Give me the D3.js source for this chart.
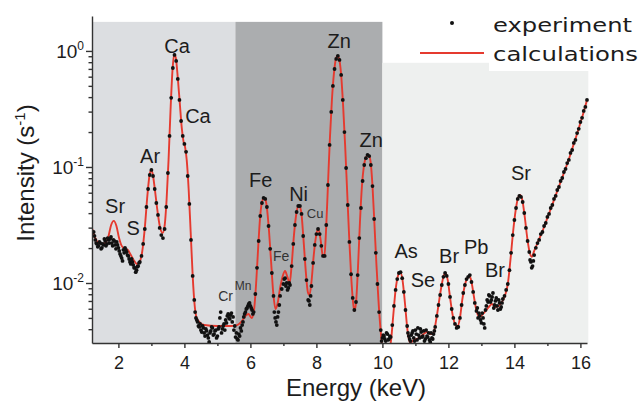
<!DOCTYPE html>
<html>
<head>
<meta charset="utf-8">
<script src="https://cdn.jsdelivr.net/npm/d3@7"></script>
<style>
  body { margin: 0; background: #fff; }
  text { font-family: "Liberation Sans", Arial, sans-serif; fill: #1c1c1c; }
</style>
</head>
<body>
<svg id="svg1" width="639" height="402"></svg>
<script>
//XRF spectrum: measured points + calculated curve

//experiment: one reading every 0.05 keV, first one at 1.25 keV
var expStart = 1.25;
var expStep = 0.05;
var expIntensity = [
  .0275, .0235, .0217, .0209, .0221, .0201, .0213, .0230, .0217, .0235,   // 1.25
  .0240, .0221, .0235, .0213, .0226, .0201, .0178, .0164, .0193, .0201,   // 1.75
  .0185, .0171, .0152, .0161, .0143, .0135, .0129, .0140, .0152, .0171,   // 2.25
  .0217, .0292, .0452, .0646, .0853, .0942, .0836, .0646, .0489, .0386,   // 2.75
  .0298, .0259, .0244, .0292, .0452, .0887, .185, .394, .713, .924,       // 3.25
  .820, .574, .378, .249, .185, .158, .135, .0836, .0480, .0235,          // 3.75
  .0115, .00714, .00500, .00462, .00418, .00393, .00426, .00371, .00402, .00356, // 4.25
  .00310, .00386, .00410, .00363, .00393, .00349, .00418, .00562, .00402, .00444, // 4.75
  .00480, .00520, .00500, .00530, .00462, .00393, .00342, .00329, .00363, .00410, // 5.25
  .00434, .00510, .00562, .00609, .00659, .00634, .00585, .00562, .00804, .0135,  // 5.75
  .0230, .0378, .0489, .0541, .0530, .0452, .0310, .0197, .0122, .00773,  // 6.25
  .00500, .00434, .00562, .00773, .00888, .00980, .0110, .0100, .00906, .00961, // 6.75
  .0140, .0217, .0316, .0409, .0461, .0461, .0394, .0254, .0161, .0106,   // 7.25
  .00714, .00646, .00942, .0149, .0213, .0264, .0292, .0264, .0209, .0171, // 7.75
  .0171, .0316, .0699, .155, .298, .499, .699, .853, .905, .836,          // 8.25
  .621, .378, .200, .0980, .0470, .0226, .0119, .00743, .00585, .00686,   // 8.75
  .0117, .0244, .0443, .0757, .104, .119, .127, .124, .104, .0685,        // 9.25
  .0356, .0182, .00980, .00562, .00393, .00336, .00349, .00316, .00363, .00329, // 9.75
  .00342, .00434, .00634, .00871, .0108, .0122, .0124, .0110, .00837, .00585,  // 10.25
  .00426, .00349, .00316, .00371, .00336, .00393, .00323, .00356, .00402, .00342, // 10.75
  .00386, .00329, .00349, .00371, .00310, .00336, .00363, .00418, .00520, .00646, // 11.25
  .00788, .00961, .0113, .0122, .0115, .00980, .00758, .00597, .00500, .00444,  // 11.75
  .00410, .00418, .00500, .00646, .00820, .00961, .0108, .0113, .0117, .0102,   // 12.25
  .00837, .00673, .00574, .00500, .00520, .00453, .00500, .00410, .00634, .00686, // 12.75
  .00773, .00714, .00820, .00646, .00743, .00585, .00673, .00621, .00728, .00773, // 13.25
  .00871, .00980, .0129, .0182, .0259, .0349, .0443, .0530, .0563, .0552,  // 13.75
  .0499, .0401, .0298, .0230, .0185, .0152, .0140, .0174, .0201, .0221,   // 14.25
  .0235, .0264, .0275, .0310, .0329, .0371, .0394, .0443, .0470, .0530,   // 14.75
  .0563, .0633, .0672, .0757, .0803, .0905, .0961, .108, .115, .132,      // 15.25
  .140, .161, .171, .196, .213, .244, .265, .304, .329, .378              // 15.75
];

//extra readings in the noisy, low-count stretches
var noiseEnergy = [
  1.275, 1.325, 1.375, 1.425, 1.475, 1.525, 1.575, 1.625, 1.675, 1.725,
  1.775, 1.825, 1.875, 1.925, 1.975, 2.025, 2.075, 2.125, 2.175, 2.225,
  2.275, 2.325, 2.375, 2.425, 2.475, 2.525, 2.575, 2.625,
  4.325, 4.375, 4.425, 4.475, 4.525, 4.575, 4.625, 4.675, 4.725, 4.775,
  4.825, 4.875, 4.925, 4.975, 5.025, 5.075, 5.125, 5.175, 5.225, 5.275,
  5.325, 5.375, 5.425, 5.475, 5.525, 5.575, 5.625, 5.675, 5.725, 5.775,
  5.825, 5.875, 5.925, 5.975, 6.025, 6.075,
  6.725, 6.775, 6.825, 6.875, 7.025, 7.075, 7.125, 7.175, 7.775, 7.825,
  9.975, 10.025, 10.075, 10.125, 10.175, 10.225,
  10.775, 10.825, 10.875, 10.925, 10.975, 11.025, 11.075, 11.125, 11.175, 11.225,
  11.275, 11.325, 11.375, 11.425, 11.475, 11.525, 11.575, 12.275,
  12.875, 12.925, 12.975, 13.025, 13.075, 13.125, 13.175, 13.225, 13.275, 13.325,
  13.375, 13.425, 13.475, 13.525, 13.575, 13.625, 14.475, 14.525, 14.575
];
var noiseIntensity = [
  .0254, .0221, .0205, .0226, .0197, .0217, .0240, .0209, .0244, .0221,
  .0249, .0209, .0230, .0197, .0213, .0189, .0171, .0155, .0182, .0193,
  .0174, .0161, .0146, .0152, .0135, .0124, .0138, .0149,
  .00562, .00480, .00426, .00444, .00378, .00410, .00349, .00386, .00336, .00371,
  .00418, .00356, .00386, .00336, .00402, .00500, .00371, .00426, .00393, .00453,
  .00541, .00490, .00551, .00510, .00426, .00371, .00323, .00349, .00386, .00462,
  .00541, .00597, .00634, .00673, .00609, .00541,
  .00562, .00462, .00510, .00646, .0108, .00942, .00871, .0100, .00700, .00773,
  .00316, .00356, .00329, .00371, .00323, .00349,
  .00371, .00329, .00356, .00386, .00316, .00363, .00410, .00336, .00378, .00349,
  .00316, .00393, .00342, .00323, .00371, .00329, .00386, .00418,
  .00609, .00551, .00480, .00551, .00444, .00585, .00714, .00788, .00686, .00758,
  .00609, .00700, .00634, .00714, .00597, .00673, .0158, .0135, .0155
];

//calculated spectrum
var calcEnergy = [
  1.21, 1.30, 1.40, 1.50, 1.60, 1.70, 1.78, 1.86, 1.94, 2.02,
  2.10, 2.20, 2.28, 2.36, 2.46, 2.56, 2.64, 2.72, 2.80, 2.88,
  2.94, 2.99, 3.04, 3.10, 3.18, 3.26, 3.34, 3.40, 3.46, 3.52,
  3.58, 3.64, 3.69, 3.74, 3.80, 3.86, 3.92, 3.97, 4.02, 4.07,
  4.13, 4.19, 4.25, 4.31, 4.37, 4.45, 4.60, 5.00, 5.40, 5.60,
  5.75, 5.85, 5.94, 6.04, 6.11, 6.18, 6.24, 6.30, 6.36, 6.42,
  6.48, 6.55, 6.62, 6.69, 6.76, 6.82, 6.90, 6.98, 7.05, 7.12,
  7.19, 7.25, 7.32, 7.40, 7.47, 7.54, 7.61, 7.68, 7.74, 7.79,
  7.85, 7.92, 8.00, 8.06, 8.12, 8.19, 8.24, 8.29, 8.35, 8.41,
  8.47, 8.53, 8.59, 8.64, 8.69, 8.75, 8.81, 8.87, 8.93, 8.99,
  9.05, 9.11, 9.15, 9.20, 9.26, 9.32, 9.38, 9.44, 9.51, 9.58,
  9.64, 9.70, 9.76, 9.82, 9.88, 9.94, 10.00, 10.10, 10.20, 10.27,
  10.33, 10.40, 10.47, 10.54, 10.61, 10.68, 10.76, 10.84, 10.95, 11.10,
  11.25, 11.35, 11.45, 11.55, 11.62, 11.70, 11.78, 11.85, 11.91, 11.98,
  12.06, 12.14, 12.22, 12.28, 12.35, 12.42, 12.50, 12.57, 12.64, 12.70,
  12.78, 12.86, 12.95, 13.05, 13.15, 13.25, 13.32, 13.42, 13.52, 13.62,
  13.72, 13.80, 13.88, 13.96, 14.04, 14.10, 14.17, 14.24, 14.31, 14.39,
  14.46, 14.53, 14.60, 14.70, 14.80, 14.90, 15.00, 15.10, 15.20, 15.30,
  15.40, 15.50, 15.60, 15.70, 15.80, 15.90, 16.00, 16.10, 16.20
];
var calcIntensity = [
  .0292, .0244, .0221, .0217, .0221, .0254, .0316, .0343, .0310, .0244,
  .0209, .0197, .0193, .0178, .0158, .0146, .0152, .0185, .0298, .0574,
  .0836, .0942, .0870, .0658, .0426, .0304, .0270, .0310, .0519, .115,
  .310, .686, .942, .870, .585, .356, .217, .168, .149, .115,
  .0633, .0275, .0117, .00646, .00500, .00462, .00434, .00426, .00426, .00434,
  .00471, .00520, .00541, .00500, .00585, .0106, .0213, .0386, .0509, .0541,
  .0489, .0316, .0164, .00837, .00597, .00659, .00906, .0115, .0127, .0113,
  .0100, .0143, .0259, .0409, .0470, .0409, .0235, .0124, .00837, .00788,
  .0102, .0174, .0264, .0292, .0244, .0174, .0168, .0275, .0699, .178,
  .378, .634, .853, .905, .853, .621, .336, .155, .0633, .0259,
  .0119, .00686, .00574, .00673, .0135, .0336, .0685, .102, .122, .127,
  .112, .0685, .0316, .0143, .00714, .00410, .00275, .00217, .00250, .00336,
  .00530, .00871, .0115, .0124, .0106, .00686, .00393, .00304, .00323, .00336,
  .00363, .00378, .00363, .00371, .00462, .00646, .00906, .0113, .0122, .0106,
  .00714, .00510, .00434, .00426, .00500, .00714, .00961, .0110, .0115, .0102,
  .00743, .00562, .00510, .00541, .00585, .00634, .00659, .00621, .00634, .00686,
  .00788, .00980, .0158, .0275, .0426, .0530, .0574, .0519, .0378, .0244,
  .0185, .0168, .0189, .0221, .0259, .0304, .0364, .0434, .0519, .0621,
  .0742, .0887, .106, .129, .158, .193, .240, .298, .378
];

//shaded energy windows
var bandFrom = [1.2, 5.545, 10.0];
var bandTo = [5.545, 10.0, 16.24];
var bandTop = [1.78, 1.78, 0.79];

//axis ticks
var xTicks = [2, 4, 6, 8, 10, 12, 14, 16];
var xMinorTicks = [3, 5, 7, 9, 11, 13, 15];
var yTicks = [0.01, 0.1, 1];
var yTickExp = ["-2", "-1", "0"];

//peak labels (anchored in keV / intensity)
var peakName = ["Sr", "S", "Ar", "Ca", "Ca", "Fe", "Ni", "Zn", "Zn", "As", "Se", "Br", "Pb", "Br", "Sr"];
var peakE = [1.90, 2.45, 2.96, 3.78, 4.41, 6.31, 7.46, 8.69, 9.66, 10.72, 11.23, 12.02, 12.84, 13.41, 14.20];
var peakI = [0.0401, 0.0259, 0.108, 0.961, 0.240, 0.0672, 0.0509, 1.061, 0.149, 0.0164, 0.00924, 0.0149, 0.0178, 0.0113, 0.0772];
var minorName = ["Cr", "Mn", "Fe", "Cu"];
var minorE = [5.25, 5.78, 6.93, 7.96];
var minorI = [0.0070, 0.00871, 0.0155, 0.0363];

var svg = d3.select("#svg1");
var plotLeft = 92, plotRight = 587, plotTop = 16, plotBottom = 343;

var xScale = d3.scaleLinear().domain([1.2, 16.2]).range([plotLeft, plotRight]);
var yScale = d3.scaleLog().domain([0.00304, 2.0]).range([plotBottom, plotTop]);

//background bands
var bandColors = ["#dcdee1", "#abadaf", "#eef0ef"];
svg.selectAll(".band")
  .data(bandFrom)
  .enter().append("rect")
    .attr("class", "band")
    .attr("x", function(d) { return xScale(d); })
    .attr("y", function(d, i) { return yScale(bandTop[i]); })
    .attr("width", function(d, i) { return xScale(bandTo[i]) - xScale(d); })
    .attr("height", function(d, i) { return plotBottom - yScale(bandTop[i]); })
    .style("fill", function(d, i) { return bandColors[i]; });

//white patch behind the legend
svg.append("rect")
  .attr("x", 489).attr("y", 40).attr("width", 110).attr("height", 31)
  .style("fill", "#fff");

svg.append("clipPath").attr("id", "plotClip")
  .append("rect").attr("x", plotLeft).attr("y", 0).attr("width", 600 - plotLeft).attr("height", plotBottom);

var plot = svg.append("g").attr("clip-path", "url(#plotClip)");

//calculated line
var calcData = calcEnergy.map(function(e, i) { return [e, calcIntensity[i]]; });
var line = d3.line()
  .x(function(d) { return xScale(d[0]); })
  .y(function(d) { return yScale(d[1]); })
  .curve(d3.curveMonotoneX);

plot.append("path")
  .datum(calcData)
  .attr("d", line)
  .style("fill", "none")
  .style("stroke", "#e53a2f")
  .style("stroke-width", 1.9);

//experiment dots (regular grid + extra noisy readings)
var expData = expIntensity.map(function(v, i) { return [expStart + i * expStep, v]; })
  .concat(noiseEnergy.map(function(e, i) { return [e, noiseIntensity[i]]; }));

plot.selectAll(".dot")
  .data(expData)
  .enter().append("circle")
    .attr("class", "dot")
    .attr("cx", function(d) { return xScale(d[0]); })
    .attr("cy", function(d) { return yScale(d[1]); })
    .attr("r", 1.9)
    .style("fill", "#111");

//X AXIS
var xAxis = d3.axisBottom(xScale).tickValues(xTicks).tickSize(5).tickSizeOuter(0).tickPadding(4);
var gx = svg.append("g")
  .attr("transform", "translate(0," + plotBottom + ")")
  .call(xAxis);
gx.selectAll("text").style("font-size", "18px").attr("dy", "0.95em");
svg.append("g")
  .attr("transform", "translate(0," + plotBottom + ")")
  .call(d3.axisBottom(xScale).tickValues(xMinorTicks).tickSize(3).tickSizeOuter(0).tickFormat(""))
  .select(".domain").remove();

//Y AXIS
var yMinor = [];
[0.001, 0.01, 0.1, 1].forEach(function(dec) {
  for (var k = 2; k <= 9; k++) {
    var v = dec * k;
    if (v > 0.00304 && v < 2.0) yMinor.push(v);
  }
});
svg.append("g")
  .attr("transform", "translate(" + plotLeft + ",0)")
  .call(d3.axisLeft(yScale).tickValues(yTicks).tickSize(6).tickSizeOuter(0).tickFormat(""));
svg.append("g")
  .attr("transform", "translate(" + plotLeft + ",0)")
  .call(d3.axisLeft(yScale).tickValues(yMinor).tickSize(3.5).tickSizeOuter(0).tickFormat(""))
  .select(".domain").remove();

svg.selectAll(".domain, .tick line").style("stroke", "#333").style("stroke-width", 1.4);

//y tick labels as 10^n
var yLab = svg.selectAll(".ylab")
  .data(yTicks)
  .enter().append("text")
    .attr("class", "ylab")
    .attr("x", 84)
    .attr("y", function(d) { return yScale(d) + 7; })
    .attr("text-anchor", "end")
    .style("font-size", "19px");
yLab.append("tspan").text("10");
yLab.append("tspan")
  .attr("dy", -8)
  .style("font-size", "12px")
  .text(function(d, i) { return yTickExp[i]; });

//axis titles
svg.append("text")
  .attr("x", 356).attr("y", 396)
  .attr("text-anchor", "middle")
  .style("font-size", "24px")
  .text("Energy (keV)");

var yt = svg.append("text")
  .attr("transform", "translate(34,173) rotate(-90)")
  .attr("text-anchor", "middle")
  .style("font-size", "24px");
yt.append("tspan").text("Intensity (s");
yt.append("tspan").attr("dy", -9).style("font-size", "15px").text("-1");
yt.append("tspan").attr("dy", 9).text(")");

//peak labels
svg.selectAll(".peak")
  .data(peakName)
  .enter().append("text")
    .attr("class", "peak")
    .attr("x", function(d, i) { return xScale(peakE[i]); })
    .attr("y", function(d, i) { return yScale(peakI[i]); })
    .attr("text-anchor", "middle")
    .style("font-size", "20px")
    .text(function(d) { return d; });

var minorSize = [14, 12, 14, 13];
svg.selectAll(".minorpeak")
  .data(minorName)
  .enter().append("text")
    .attr("class", "minorpeak")
    .attr("x", function(d, i) { return xScale(minorE[i]); })
    .attr("y", function(d, i) { return yScale(minorI[i]); })
    .attr("text-anchor", "middle")
    .style("font-size", function(d, i) { return minorSize[i] + "px"; })
    .style("fill", "#333")
    .text(function(d) { return d; });

//LEGEND
svg.append("circle").attr("cx", 452).attr("cy", 23).attr("r", 2).style("fill", "#111");
svg.append("text")
  .attr("x", 493).attr("y", 32)
  .attr("textLength", 139).attr("lengthAdjust", "spacingAndGlyphs")
  .style("font-family", "'DejaVu Sans', sans-serif")
  .style("font-size", "20px")
  .text("experiment");
svg.append("line")
  .attr("x1", 420).attr("x2", 484).attr("y1", 53).attr("y2", 53)
  .style("stroke", "#e53a2f").style("stroke-width", 2);
svg.append("text")
  .attr("x", 493).attr("y", 61)
  .attr("textLength", 145).attr("lengthAdjust", "spacingAndGlyphs")
  .style("font-family", "'DejaVu Sans', sans-serif")
  .style("font-size", "20px")
  .text("calculations");
</script>
</body>
</html>
